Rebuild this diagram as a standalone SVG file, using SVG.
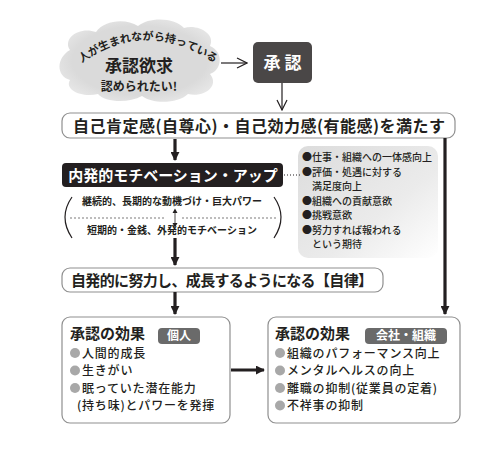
<svg xmlns="http://www.w3.org/2000/svg" width="500" height="450" viewBox="0 0 500 450">
<defs>
<style>
text{font-family:"Noto Sans CJK JP","Noto Sans",sans-serif;fill:#231f20;font-weight:bold}
.w{fill:#fff}
.m{font-weight:500}
.arc text{font-size:11px;text-anchor:middle}
.b{font-size:12px;font-weight:500;letter-spacing:0.8px}
.s{font-size:10px;font-weight:500}
.box{fill:#fff;stroke:#8f8f8f;stroke-width:1.2}
.blk{stroke:#231f20;stroke-width:3.2;fill:none}
.thin{stroke:#231f20;stroke-width:1.2;fill:none}
.dot{fill:#a8a8a8}
</style>
<linearGradient id="g1" x1="0" y1="0" x2="1" y2="1">
<stop offset="0" stop-color="#dcdcdc"/>
<stop offset="0.6" stop-color="#ebebeb"/>
<stop offset="1" stop-color="#ffffff"/>
</linearGradient>
<radialGradient id="gc" cx="0.5" cy="0.5" r="0.6">
<stop offset="0.7" stop-color="#dadada"/>
<stop offset="1" stop-color="#ebebeb"/>
</radialGradient>
<marker id="ah" viewBox="0 0 10 10" refX="9" refY="5" markerWidth="9" markerHeight="9" markerUnits="userSpaceOnUse" orient="auto">
<path d="M0,0 L10,5 L0,10 z" fill="#231f20"/>
</marker>
<marker id="oa" viewBox="0 0 12 12" refX="11" refY="6" markerWidth="12" markerHeight="12" markerUnits="userSpaceOnUse" orient="auto">
<path d="M1,1 L11,6 L1,11" fill="none" stroke="#231f20" stroke-width="1.2"/>
</marker>
</defs>

<g id="cloud">
<path d="M 70 50 C 62 38, 80 26, 96 32 C 104 20, 126 18, 138 26 C 150 16, 176 18, 184 28 C 198 24, 216 34, 210 46 C 224 52, 222 70, 210 74 C 220 86, 204 98, 188 94 C 178 104, 152 104, 142 96 C 128 104, 104 102, 98 94 C 82 98, 64 90, 70 80 C 56 76, 56 58, 70 50 Z" fill="url(#gc)"/>
<g class="arc">
<text transform="translate(86.3,59.7) rotate(-33.3)">人</text>
<text transform="translate(95.6,54.0) rotate(-28.9)">が</text>
<text transform="translate(105.4,49.1) rotate(-23.9)">生</text>
<text transform="translate(115.7,45.2) rotate(-18.4)">ま</text>
<text transform="translate(126.2,42.3) rotate(-12.3)">れ</text>
<text transform="translate(137.0,40.5) rotate(-5.9)">な</text>
<text transform="translate(148.0,40.0) rotate(0.6)">が</text>
<text transform="translate(158.9,40.7) rotate(7)">ら</text>
<text transform="translate(169.7,42.6) rotate(13.1)">持</text>
<text transform="translate(180.2,45.6) rotate(18.7)">っ</text>
<text transform="translate(190.5,49.6) rotate(23.7)">て</text>
<text transform="translate(200.4,54.5) rotate(28.2)">い</text>
<text transform="translate(209.8,59.9) rotate(32.1)">る</text>
</g>
<text x="139" y="72" font-size="17" text-anchor="middle">承認欲求</text>
<text x="139" y="91" font-size="12" text-anchor="middle">認められたい!</text>
</g>

<g id="shonin">
<rect x="253" y="42" width="59" height="41" rx="5" fill="#4a4747"/>
<text x="282.5" y="69" font-size="17" text-anchor="middle" class="w">承 認</text>
</g>

<g id="box1">
<rect class="box" x="62" y="113" width="393" height="25" rx="8"/>
<text x="259" y="132" font-size="16" text-anchor="middle" textLength="372">自己肯定感(自尊心)・自己効力感(有能感)を満たす</text>
</g>

<g id="motivation">
<rect x="62" y="163" width="221" height="24" rx="4" fill="#231f20"/>
<text x="173" y="181" font-size="15" text-anchor="middle" class="w">内発的モチベーション・アップ</text>
</g>

<g id="bracket">
<path d="M 72 197 Q 58 217 72 238" class="thin" stroke-width="0.8"/>
<path d="M 274 197 Q 288 217 274 238" class="thin" stroke-width="0.8"/>
<text x="172" y="205" font-size="10" text-anchor="middle">継続的、長期的な動機づけ・巨大パワー</text>
<line x1="70" y1="218" x2="166" y2="218" stroke="#231f20" stroke-width="0.6" stroke-dasharray="2,2"/>
<line x1="182" y1="218" x2="278" y2="218" stroke="#231f20" stroke-width="0.6" stroke-dasharray="2,2"/>
<text x="172" y="234" font-size="10" text-anchor="middle">短期的・金銭、外発的モチベーション</text>
</g>

<g id="bubble">
<rect x="298" y="146" width="140" height="112" rx="10" fill="url(#g1)"/>
<text class="s" x="302" y="161">●仕事・組織への一体感向上</text>
<text class="s" x="302" y="175.5">●評価・処遇に対する</text>
<text class="s" x="312" y="190">満足度向上</text>
<text class="s" x="302" y="204.5">●組織への貢献意欲</text>
<text class="s" x="302" y="219">●挑戦意欲</text>
<text class="s" x="302" y="233.5">●努力すれば報われる</text>
<text class="s" x="312" y="248">という期待</text>
</g>

<g id="box2">
<rect class="box" x="62" y="268" width="321" height="24" rx="8"/>
<text x="222" y="286" font-size="15" text-anchor="middle" textLength="302">自発的に努力し、成長するようになる【自律】</text>
</g>

<g id="effect-personal">
<rect class="box" x="62" y="317" width="168" height="106" rx="8"/>
<text x="70" y="339" font-size="15">承認の効果</text>
<rect x="158" y="328" width="42" height="16" rx="4" fill="#6a6a6a"/>
<text x="179" y="340" font-size="12" text-anchor="middle" class="w">個人</text>
<circle class="dot" cx="75" cy="353" r="5"/>
<circle class="dot" cx="75" cy="370.5" r="5"/>
<circle class="dot" cx="75" cy="388" r="5"/>
<text class="b" x="82" y="357.5">人間的成長</text>
<text class="b" x="82" y="375">生きがい</text>
<text class="b" x="82" y="392.5">眠っていた潜在能力</text>
<text class="b" x="77" y="410">(持ち味)とパワーを発揮</text>
</g>

<g id="effect-company">
<rect class="box" x="268" y="317" width="192" height="106" rx="8"/>
<text x="275" y="339" font-size="15">承認の効果</text>
<rect x="365" y="328" width="82" height="16" rx="4" fill="#6a6a6a"/>
<text x="406" y="340" font-size="12" text-anchor="middle" class="w">会社・組織</text>
<circle class="dot" cx="280" cy="353" r="5"/>
<circle class="dot" cx="280" cy="370.5" r="5"/>
<circle class="dot" cx="280" cy="388" r="5"/>
<circle class="dot" cx="280" cy="405.5" r="5"/>
<text class="b" x="287" y="357.5">組織のパフォーマンス向上</text>
<text class="b" x="287" y="375">メンタルヘルスの向上</text>
<text class="b" x="287" y="392.5">離職の抑制(従業員の定着)</text>
<text class="b" x="287" y="410">不祥事の抑制</text>
</g>

<g id="connectors">
<line x1="221" y1="63" x2="247" y2="63" marker-end="url(#oa)" class="thin"/>
<line x1="282" y1="83" x2="282" y2="110" marker-end="url(#oa)" class="thin"/>
<line x1="175" y1="139" x2="175" y2="160" marker-end="url(#ah)" class="blk"/>
<line x1="175" y1="211" x2="175" y2="225" stroke="#231f20" stroke-width="0.8"/>
<path d="M172.5,213 L175,208.5 L177.5,213 z M172.5,223 L175,227.5 L177.5,223 z" fill="#231f20"/>
<line x1="175" y1="238" x2="175" y2="265" marker-end="url(#ah)" class="blk"/>
<line x1="175" y1="292" x2="175" y2="314" marker-end="url(#ah)" class="blk"/>
<line x1="284" y1="175" x2="300" y2="175" stroke="#231f20" stroke-width="1.2" stroke-dasharray="1,2"/>
<line x1="445" y1="138" x2="445" y2="314" marker-end="url(#ah)" class="blk"/>
<line x1="231" y1="370" x2="264" y2="370" marker-end="url(#ah)" class="blk"/>
</g>
</svg>
